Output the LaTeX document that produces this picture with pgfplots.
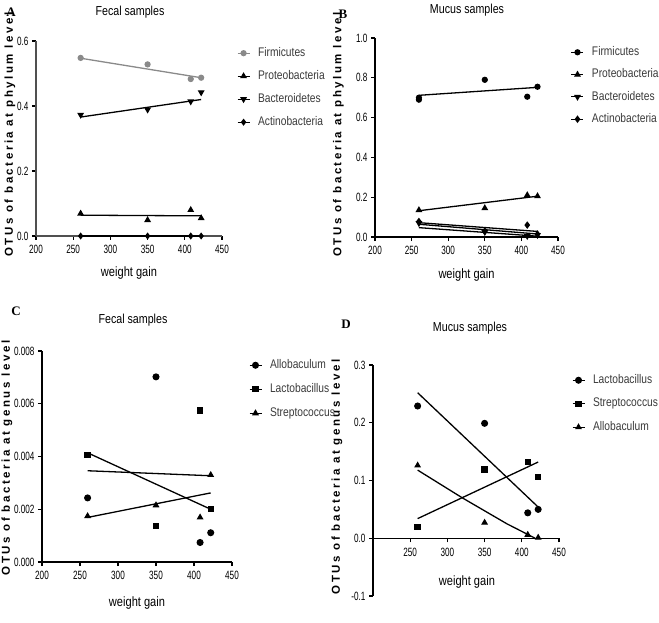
\documentclass[border=0pt]{standalone}
\usepackage{fontspec}
\setmainfont{Liberation Sans}
\newfontfamily\narrow[FakeStretch=0.82]{Liberation Sans}
\newfontfamily\ticknarrow[FakeStretch=0.68]{Liberation Sans}
\newfontfamily\ylabfont[LetterSpace=22]{Liberation Sans}
\newfontfamily\serif{Liberation Serif}
\usepackage{pgfplots}
\pgfplotsset{compat=1.18}
\definecolor{fgrey}{HTML}{8A8A8A}
\definecolor{legtext}{HTML}{3A3A3A}
\definecolor{axgrey}{HTML}{505050}

\pgfplotsset{
  panel/.style={
    scale only axis, anchor=south west, clip=false,
    axis line style={line width=1.3pt},
    tick style={line width=1.1pt, black},
    tick align=outside, major tick length=4pt,
    axis x line*=bottom, axis y line*=left,
    xmin=200, xmax=450,
    xtick={200,250,300,350,400,450},
    xticklabels={200,250,300,350,400,450},
    ticklabel style={font=\ticknarrow\fontsize{12}{14}\selectfont},
    xticklabel style={yshift=-2pt},
    xlabel={weight gain},
    xlabel style={font=\narrow\fontsize{13.5}{15}\selectfont, anchor=center},
    ylabel style={font=\ylabfont\bfseries\fontsize{11.5}{13}\selectfont, anchor=center},
    legend cell align=left,
    legend style={draw=none, fill=none, anchor=north west, inner sep=0pt, outer sep=0pt,
      column sep=8pt, font=\narrow\fontsize{12.5}{14}\selectfont, text=legtext,
      nodes={inner sep=0pt, text height=9pt, text depth=2.5pt}},
    legend image code/.code={
      \draw[line width=1pt,##1] (0pt,0pt) -- (12pt,0pt);
      \draw[##1] plot coordinates {(6pt,0pt)};
    },
    every axis plot/.append style={line width=1.2pt},
  },
  pts/.style={only marks, #1, mark size=2.5pt},
  fit/.style={forget plot, no marks, line width=1.3pt, #1},
}

\begin{document}
\begin{tikzpicture}
\useasboundingbox (0,0) rectangle (659pt,622pt);

% ---------------- Panel A ----------------
\begin{axis}[panel, at={(36pt,386pt)}, width=186pt, height=195pt,
  axis line style={axgrey},
  ymin=0, ymax=0.6, ytick={0,0.2,0.4,0.6}, yticklabels={0.0,0.2,0.4,0.6},
  ylabel={OTUs of bacteria at phylum level},
  xlabel style={at={(axis description cs:0.5,-0.19)}},
  ylabel style={at={(axis description cs:-0.14,0.52)}},
  legend style={at={(axis description cs:1.081,0.967)}, row sep=11.5pt}]
\addplot[pts={fgrey}, mark=*] coordinates {(260,0.548) (350,0.528) (408,0.483) (422,0.487)};
\addlegendentry{Firmicutes}
\addplot[pts={black}, mark=triangle*, mark size=2.8pt] coordinates {(260,0.069) (350,0.049) (408,0.080) (422,0.055)};
\addlegendentry{Proteobacteria}
\addplot[pts={black}, mark=triangle*, mark size=2.8pt, mark options={rotate=180}] coordinates {(260,0.373) (350,0.389) (408,0.414) (422,0.442)};
\addlegendentry{Bacteroidetes}
\addplot[pts={black}, mark=diamond*, mark size=2.6pt] coordinates {(260,0.0) (350,0.0) (408,0.0) (422,0.0)};
\addlegendentry{Actinobacteria}
\addplot[fit={fgrey}] coordinates {(260,0.547) (422,0.487)};
\addplot[fit={black}] coordinates {(260,0.366) (422,0.420)};
\addplot[fit={black}] coordinates {(260,0.064) (422,0.062)};
\addplot[fit={black}] coordinates {(260,0.0) (422,0.0)};
\end{axis}

% ---------------- Panel B ----------------
\begin{axis}[panel, at={(375pt,385pt)}, width=183pt, height=199pt,
  ymin=0, ymax=1, ytick={0,0.2,0.4,0.6,0.8,1.0}, yticklabels={0.0,0.2,0.4,0.6,0.8,1.0},
  ylabel={OTUs of bacteria at phylum level},
  xlabel style={at={(axis description cs:0.5,-0.191)}},
  ylabel style={at={(axis description cs:-0.20,0.515)}},
  legend style={at={(axis description cs:1.071,0.957)}, row sep=10.8pt}]
\addplot[pts={black}, mark=*] coordinates {(260,0.690) (260,0.700) (350,0.790) (408,0.705) (422,0.755)};
\addlegendentry{Firmicutes}
\addplot[pts={black}, mark=triangle*, mark size=2.8pt] coordinates {(260,0.135) (350,0.145) (408,0.210) (422,0.205)};
\addlegendentry{Proteobacteria}
\addplot[pts={black}, mark=triangle*, mark size=2.8pt, mark options={rotate=180}] coordinates {(260,0.070) (350,0.025) (408,0.005) (422,0.010)};
\addlegendentry{Bacteroidetes}
\addplot[pts={black}, mark=diamond*, mark size=2.8pt] coordinates {(260,0.078) (350,0.030) (408,0.060) (422,0.015)};
\addlegendentry{Actinobacteria}
\addplot[fit={black}] coordinates {(260,0.712) (422,0.752)};
\addplot[fit={black}] coordinates {(260,0.132) (422,0.205)};
\addplot[fit={black}] coordinates {(260,0.072) (422,0.028)};
\addplot[fit={black}] coordinates {(260,0.064) (422,0.015)};
\addplot[fit={black}] coordinates {(260,0.047) (422,0.004)};
\end{axis}

% ---------------- Panel C ----------------
\begin{axis}[panel, at={(42pt,60pt)}, width=190pt, height=211pt,
  ymin=0, ymax=0.008, ytick={0,0.002,0.004,0.006,0.008},
  yticklabels={0.000,0.002,0.004,0.006,0.008}, scaled y ticks=false,
  ylabel={OTUs of bacteria at genus level},
  xlabel style={at={(axis description cs:0.5,-0.194)}},
  ylabel style={at={(axis description cs:-0.184,0.493)}},
  legend style={at={(axis description cs:1.0895,0.9597)}, row sep=12.5pt}]
\addplot[pts={black}, mark=*, mark size=2.9pt] coordinates {(260,0.00243) (350,0.00702) (408,0.00074) (422,0.00111)};
\addlegendentry{Allobaculum}
\addplot[pts={black}, mark=square*, mark size=2.6pt] coordinates {(260,0.00405) (350,0.00136) (408,0.00575) (422,0.00200)};
\addlegendentry{Lactobacillus}
\addplot[pts={black}, mark=triangle*, mark size=2.8pt] coordinates {(260,0.00174) (350,0.00215) (408,0.00169) (422,0.00330)};
\addlegendentry{Streptococcus}
\addplot[fit={black}] coordinates {(260,0.00346) (422,0.00327)};
\addplot[fit={black}] coordinates {(260,0.00414) (422,0.00200)};
\addplot[fit={black}] coordinates {(260,0.00169) (422,0.00262)};
\end{axis}

% ---------------- Panel D ----------------
\begin{axis}[panel, at={(373pt,26pt)}, width=186pt, height=231pt,
  axis x line*=middle,
  xtick={250,300,350,400,450}, xticklabels={250,300,350,400,450},
  ymin=-0.1, ymax=0.3, ytick={-0.1,0,0.1,0.2,0.3}, yticklabels={-0.1,0.0,0.1,0.2,0.3},
  ylabel={OTUs of bacteria at genus level},
  xlabel style={at={(axis description cs:0.505,0.06)}},
  ylabel style={at={(axis description cs:-0.194,0.515)}},
  legend style={at={(axis description cs:1.070,0.9589)}, row sep=12pt}]
\addplot[pts={black}, mark=*, mark size=2.9pt] coordinates {(260,0.229) (350,0.199) (408,0.044) (422,0.050)};
\addlegendentry{Lactobacillus}
\addplot[pts={black}, mark=square*, mark size=2.6pt] coordinates {(260,0.019) (350,0.119) (408,0.132) (422,0.106)};
\addlegendentry{Streptococcus}
\addplot[pts={black}, mark=triangle*, mark size=2.8pt] coordinates {(260,0.126) (350,0.027) (408,0.006) (422,0.001)};
\addlegendentry{Allobaculum}
\addplot[fit={black}] coordinates {(260,0.252) (422,0.054)};
\addplot[fit={black}] coordinates {(260,0.034) (422,0.132)};
\addplot[fit={black}] coordinates {(260,0.118) (320,0.070) (380,0.025) (418,0.0)};
\end{axis}

% ---------------- Titles and panel letters ----------------
\begin{scope}[every node/.style={font=\narrow\fontsize{13}{15}\selectfont, anchor=center}]
\node at (130pt,610pt) {Fecal samples};
\node at (467pt,612pt) {Mucus samples};
\node at (133pt,302pt) {Fecal samples};
\node at (470pt,294pt) {Mucus samples};
\end{scope}
\begin{scope}[every node/.style={font=\serif\bfseries\fontsize{13}{15}\selectfont, anchor=center}]
\node at (11pt,610pt) {A};
\node at (343pt,608pt) {B};
\node at (16pt,311pt) {C};
\node at (346pt,298pt) {D};
\end{scope}
\end{tikzpicture}
\end{document}
